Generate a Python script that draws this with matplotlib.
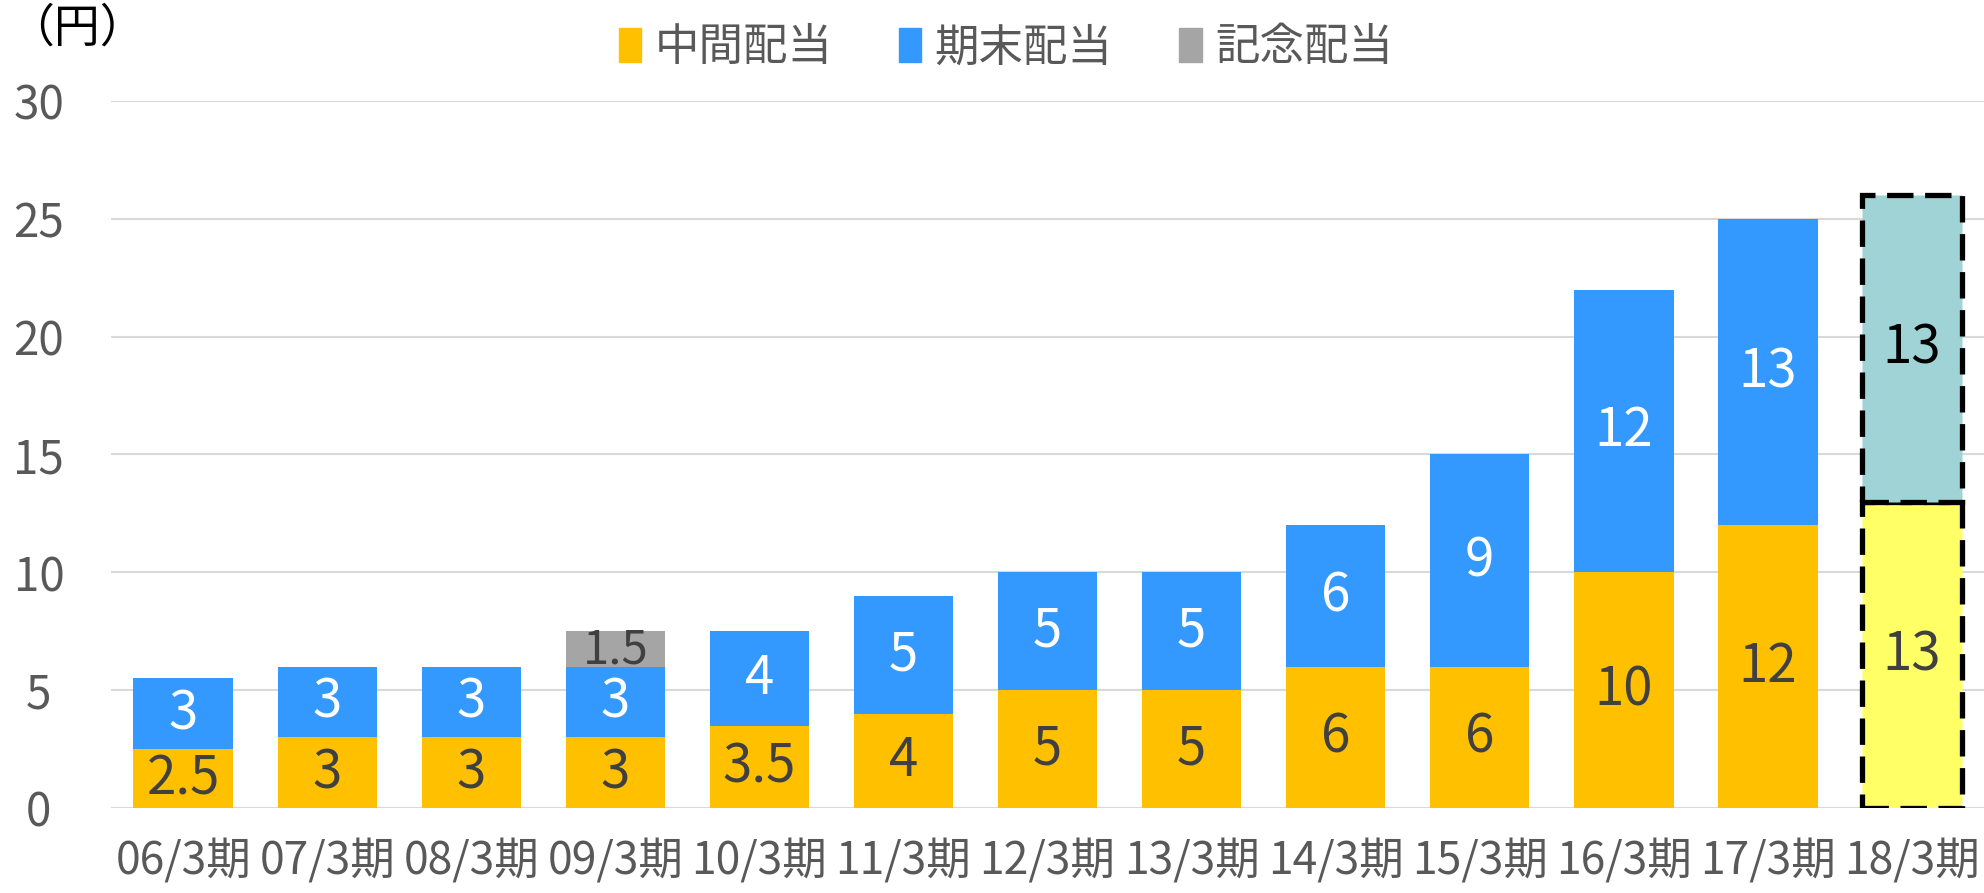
import matplotlib
matplotlib.use("Agg")
import matplotlib.pyplot as plt
import matplotlib.patches as mpatches
import numpy as np

plt.rcParams["font.family"] = ["Noto Sans CJK JP", "DejaVu Sans"]

periods = ["06/3期", "07/3期", "08/3期", "09/3期", "10/3期", "11/3期", "12/3期",
           "13/3期", "14/3期", "15/3期", "16/3期", "17/3期", "18/3期"]
interim = [2.5, 3, 3, 3, 3.5, 4, 5, 5, 6, 6, 10, 12, 13]
year_end = [3, 3, 3, 3, 4, 5, 5, 5, 6, 9, 12, 13, 13]
commemorative = [0, 0, 0, 1.5, 0, 0, 0, 0, 0, 0, 0, 0, 0]
legend_names = ["中間配当", "期末配当", "記念配当"]

YELLOW = "#FFC000"
BLUE = "#3399FF"
GRAY = "#A5A5A5"
FORECAST_LOW = "#FFFF66"
FORECAST_HIGH = "#9FD3D6"
TXT = "#404040"

fig = plt.figure(figsize=(19.84, 8.93), dpi=100)
ax = fig.add_axes([0.056, 0.0952, 0.944, 0.7917])

x = np.arange(len(periods))
w = 0.69
last = len(periods) - 1

# 18/3期 is the forecast: other colors + dashed outline
c_int = [YELLOW] * last + [FORECAST_LOW]
c_end = [BLUE] * last + [FORECAST_HIGH]

b1 = ax.bar(x, interim, w, color=c_int, zorder=2)
b2 = ax.bar(x, year_end, w, bottom=interim, color=c_end, zorder=2)
bottom3 = [a + b for a, b in zip(interim, year_end)]
b3 = ax.bar(x, commemorative, w, bottom=bottom3, color=GRAY, zorder=2)

for bars in (b1, b2):
    p = bars[last]
    p.set_edgecolor("black")
    p.set_linewidth(3.8)
    p.set_linestyle((0, (5, 2.2)))
    p.set_zorder(3)

def fmt(v):
    return f"{v:g}"

for i in range(len(periods)):
    ax.text(x[i], interim[i] / 2, fmt(interim[i]), ha="center", va="center",
            fontsize=38, color=TXT, zorder=4)
    ax.text(x[i], interim[i] + year_end[i] / 2, fmt(year_end[i]), ha="center",
            va="center", fontsize=38, color="black" if i == last else "white", zorder=4)
    if commemorative[i]:
        ax.text(x[i], bottom3[i] + commemorative[i] / 2 - 0.05, fmt(commemorative[i]),
                ha="center", va="center", fontsize=34, color=TXT, zorder=4)

ax.set_xlim(-0.5, len(periods) - 0.5)
ax.set_ylim(0, 30)
ax.set_yticks(range(0, 31, 5))
ax.set_xticks(x)
ax.set_xticklabels(periods)
ax.yaxis.grid(True, color="#D9D9D9", linewidth=1.5, zorder=0)
ax.set_axisbelow(True)
for s in ax.spines.values():
    s.set_visible(False)
ax.tick_params(axis="y", length=0, labelsize=33, labelcolor="#595959", pad=52)
ax.tick_params(axis="x", length=0, labelsize=32, labelcolor="#595959", pad=22)
for lab in ax.get_yticklabels():
    lab.set_ha("center")

fig.text(0.004, 0.968, "（円）", fontsize=33, color="black", va="center", ha="left")

handles = [mpatches.Patch(color=c) for c in (YELLOW, BLUE, GRAY)]
fig.legend(handles, legend_names, loc="center", bbox_to_anchor=(0.507, 0.947),
           ncol=3, frameon=False, fontsize=32, labelcolor="#595959",
           handlelength=0.5, handleheight=0.8, handletextpad=0.3, columnspacing=1.5)

fig.savefig("out.png", dpi=100)
